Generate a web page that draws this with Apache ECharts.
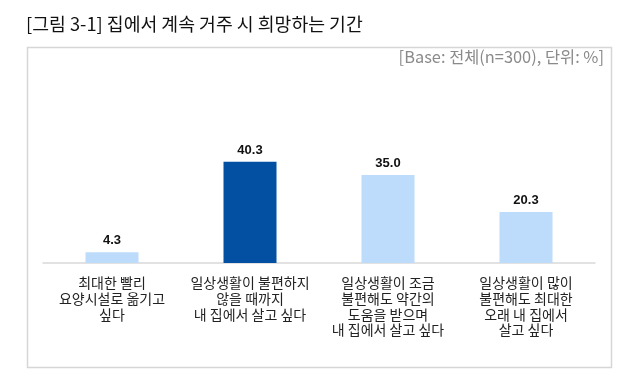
<!DOCTYPE html>
<html><head><meta charset="utf-8">
<script src="https://cdn.jsdelivr.net/npm/echarts@6/dist/echarts.min.js"></script>
<style>html,body{margin:0;padding:0;background:#fff}#c{width:640px;height:383px}</style>
</head><body><div id="c"></div>
<script>
const categories = ['최대한 빨리\n요양시설로 옮기고\n싶다', '일상생활이 불편하지\n않을 때까지\n내 집에서 살고 싶다', '일상생활이 조금\n불편해도 약간의\n도움을 받으며\n내 집에서 살고 싶다', '일상생활이 많이\n불편해도 최대한\n오래 내 집에서\n살고 싶다'];
const values = [4.3, 40.3, 35.0, 20.3];
const barColors = ['#bddcfb', '#0350a2', '#bddcfb', '#bddcfb'];
const titleText = '[그림 3-1] 집에서 계속 거주 시 희망하는 기간';
const baseText = '[Base: 전체(n=300), 단위: %]';

const font = '"Noto Sans CJK KR", "Noto Sans", sans-serif';
const chart = echarts.init(document.getElementById('c'));
chart.setOption({
  animation: false,
  backgroundColor: '#fff',
  graphic: [
    { type: 'rect', shape: { x: 27.5, y: 47.5, width: 584, height: 320 }, style: { fill: 'none', stroke: '#d6d6d6', lineWidth: 1.5 }, z: -1 },
    { type: 'text', style: { x: 26, y: 24, verticalAlign: 'middle', align: 'left', text: titleText, font: '18.3px ' + font, fill: '#111' } },
    { type: 'text', style: { x: 604, y: 57, verticalAlign: 'middle', align: 'right', text: baseText, font: '16.4px ' + font, fill: '#8a8a8a' } }
  ],
  grid: { left: 43, right: 45, top: 150, bottom: 120 },
  xAxis: {
    type: 'category',
    data: categories,
    axisLine: { lineStyle: { color: '#d9d9d9', width: 1.5 } },
    axisTick: { show: false },
    axisLabel: { color: '#222', fontSize: 14, fontFamily: font, lineHeight: 15.7, margin: 12, interval: 0 }
  },
  yAxis: { type: 'value', min: 0, max: 45, show: false, splitLine: { show: false } },
  series: [{
    type: 'bar',
    barWidth: 53,
    data: values.map((v, i) => ({ value: v, itemStyle: { color: barColors[i] } })),
    label: { show: true, position: 'top', distance: 5, formatter: p => p.value.toFixed(1), fontWeight: 'bold', fontSize: 13, color: '#111', fontFamily: 'Arial, "Liberation Sans", sans-serif' }
  }]
});
</script></body></html>
